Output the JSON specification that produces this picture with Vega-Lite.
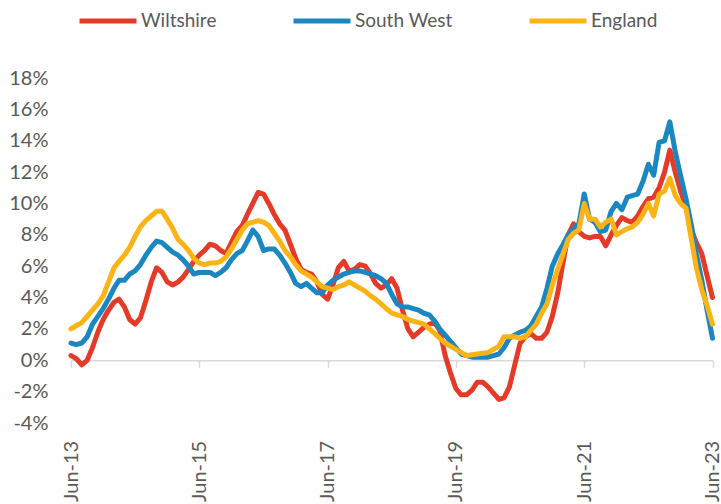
{
  "$schema": "https://vega.github.io/schema/vega-lite/v6.json",
  "width": 641.5,
  "height": 345,
  "autosize": {"type": "none"},
  "padding": {"left": 71, "top": 78, "right": 8.5, "bottom": 81},
  "background": "white",
  "config": {"view": {"stroke": null}, "font": "Lato"},
  "data": {"values": [
    {"d":"2013-06-01","Wiltshire":0.3,"South West":1.1,"England":2.0},
    {"d":"2013-07-01","Wiltshire":0.1,"South West":1.0,"England":2.2},
    {"d":"2013-08-01","Wiltshire":-0.3,"South West":1.1,"England":2.4},
    {"d":"2013-09-01","Wiltshire":0.0,"South West":1.5,"England":2.8},
    {"d":"2013-10-01","Wiltshire":0.8,"South West":2.3,"England":3.2},
    {"d":"2013-11-01","Wiltshire":1.8,"South West":2.8,"England":3.6},
    {"d":"2013-12-01","Wiltshire":2.6,"South West":3.3,"England":4.1},
    {"d":"2014-01-01","Wiltshire":3.2,"South West":3.9,"England":5.0},
    {"d":"2014-02-01","Wiltshire":3.7,"South West":4.6,"England":5.9},
    {"d":"2014-03-01","Wiltshire":3.9,"South West":5.1,"England":6.3},
    {"d":"2014-04-01","Wiltshire":3.4,"South West":5.1,"England":6.7},
    {"d":"2014-05-01","Wiltshire":2.6,"South West":5.5,"England":7.2},
    {"d":"2014-06-01","Wiltshire":2.3,"South West":5.7,"England":7.9},
    {"d":"2014-07-01","Wiltshire":2.7,"South West":6.1,"England":8.5},
    {"d":"2014-08-01","Wiltshire":3.8,"South West":6.7,"England":8.9},
    {"d":"2014-09-01","Wiltshire":5.0,"South West":7.2,"England":9.2},
    {"d":"2014-10-01","Wiltshire":5.9,"South West":7.6,"England":9.5},
    {"d":"2014-11-01","Wiltshire":5.6,"South West":7.5,"England":9.5},
    {"d":"2014-12-01","Wiltshire":5.0,"South West":7.2,"England":9.0},
    {"d":"2015-01-01","Wiltshire":4.8,"South West":6.9,"England":8.4},
    {"d":"2015-02-01","Wiltshire":5.0,"South West":6.7,"England":7.7},
    {"d":"2015-03-01","Wiltshire":5.3,"South West":6.4,"England":7.4},
    {"d":"2015-04-01","Wiltshire":5.8,"South West":6.0,"England":7.0},
    {"d":"2015-05-01","Wiltshire":6.3,"South West":5.5,"England":6.5},
    {"d":"2015-06-01","Wiltshire":6.7,"South West":5.6,"England":6.2},
    {"d":"2015-07-01","Wiltshire":7.0,"South West":5.6,"England":6.1},
    {"d":"2015-08-01","Wiltshire":7.4,"South West":5.6,"England":6.2},
    {"d":"2015-09-01","Wiltshire":7.3,"South West":5.4,"England":6.2},
    {"d":"2015-10-01","Wiltshire":7.0,"South West":5.6,"England":6.3},
    {"d":"2015-11-01","Wiltshire":6.8,"South West":5.9,"England":6.6},
    {"d":"2015-12-01","Wiltshire":7.5,"South West":6.4,"England":7.1},
    {"d":"2016-01-01","Wiltshire":8.2,"South West":6.8,"England":7.7},
    {"d":"2016-02-01","Wiltshire":8.6,"South West":7.0,"England":8.3},
    {"d":"2016-03-01","Wiltshire":9.3,"South West":7.6,"England":8.7},
    {"d":"2016-04-01","Wiltshire":10.0,"South West":8.3,"England":8.8},
    {"d":"2016-05-01","Wiltshire":10.7,"South West":7.9,"England":8.9},
    {"d":"2016-06-01","Wiltshire":10.6,"South West":7.0,"England":8.8},
    {"d":"2016-07-01","Wiltshire":10.0,"South West":7.1,"England":8.6},
    {"d":"2016-08-01","Wiltshire":9.3,"South West":7.1,"England":8.1},
    {"d":"2016-09-01","Wiltshire":8.7,"South West":6.7,"England":7.6},
    {"d":"2016-10-01","Wiltshire":8.3,"South West":6.2,"England":7.0},
    {"d":"2016-11-01","Wiltshire":7.4,"South West":5.6,"England":6.6},
    {"d":"2016-12-01","Wiltshire":6.5,"South West":4.9,"England":6.1},
    {"d":"2017-01-01","Wiltshire":5.8,"South West":4.7,"England":5.7},
    {"d":"2017-02-01","Wiltshire":5.6,"South West":4.9,"England":5.5},
    {"d":"2017-03-01","Wiltshire":5.5,"South West":4.6,"England":5.3},
    {"d":"2017-04-01","Wiltshire":5.0,"South West":4.3,"England":5.0},
    {"d":"2017-05-01","Wiltshire":4.2,"South West":4.3,"England":4.7},
    {"d":"2017-06-01","Wiltshire":3.9,"South West":4.8,"England":4.6},
    {"d":"2017-07-01","Wiltshire":4.8,"South West":5.1,"England":4.5},
    {"d":"2017-08-01","Wiltshire":5.9,"South West":5.3,"England":4.7},
    {"d":"2017-09-01","Wiltshire":6.3,"South West":5.5,"England":4.8},
    {"d":"2017-10-01","Wiltshire":5.7,"South West":5.6,"England":5.0},
    {"d":"2017-11-01","Wiltshire":5.8,"South West":5.7,"England":4.8},
    {"d":"2017-12-01","Wiltshire":6.1,"South West":5.7,"England":4.6},
    {"d":"2018-01-01","Wiltshire":6.0,"South West":5.6,"England":4.4},
    {"d":"2018-02-01","Wiltshire":5.5,"South West":5.5,"England":4.1},
    {"d":"2018-03-01","Wiltshire":4.9,"South West":5.4,"England":3.9},
    {"d":"2018-04-01","Wiltshire":4.6,"South West":5.2,"England":3.6},
    {"d":"2018-05-01","Wiltshire":4.8,"South West":4.9,"England":3.3},
    {"d":"2018-06-01","Wiltshire":5.2,"South West":4.2,"England":3.0},
    {"d":"2018-07-01","Wiltshire":4.6,"South West":3.6,"England":2.9},
    {"d":"2018-08-01","Wiltshire":3.2,"South West":3.4,"England":2.8},
    {"d":"2018-09-01","Wiltshire":2.0,"South West":3.4,"England":2.6},
    {"d":"2018-10-01","Wiltshire":1.5,"South West":3.3,"England":2.5},
    {"d":"2018-11-01","Wiltshire":1.8,"South West":3.2,"England":2.4},
    {"d":"2018-12-01","Wiltshire":2.1,"South West":3.0,"England":2.3},
    {"d":"2019-01-01","Wiltshire":2.3,"South West":2.9,"England":2.0},
    {"d":"2019-02-01","Wiltshire":2.4,"South West":2.5,"England":1.7},
    {"d":"2019-03-01","Wiltshire":1.9,"South West":2.0,"England":1.4},
    {"d":"2019-04-01","Wiltshire":0.3,"South West":1.6,"England":1.1},
    {"d":"2019-05-01","Wiltshire":-0.8,"South West":1.2,"England":0.9},
    {"d":"2019-06-01","Wiltshire":-1.8,"South West":0.8,"England":0.7},
    {"d":"2019-07-01","Wiltshire":-2.2,"South West":0.4,"England":0.5},
    {"d":"2019-08-01","Wiltshire":-2.2,"South West":0.3,"England":0.3},
    {"d":"2019-09-01","Wiltshire":-1.9,"South West":0.2,"England":0.35},
    {"d":"2019-10-01","Wiltshire":-1.4,"South West":0.2,"England":0.4},
    {"d":"2019-11-01","Wiltshire":-1.4,"South West":0.2,"England":0.45},
    {"d":"2019-12-01","Wiltshire":-1.7,"South West":0.2,"England":0.5},
    {"d":"2020-01-01","Wiltshire":-2.1,"South West":0.3,"England":0.7},
    {"d":"2020-02-01","Wiltshire":-2.5,"South West":0.4,"England":0.9},
    {"d":"2020-03-01","Wiltshire":-2.4,"South West":0.8,"England":1.5},
    {"d":"2020-04-01","Wiltshire":-1.7,"South West":1.4,"England":1.5},
    {"d":"2020-05-01","Wiltshire":-0.3,"South West":1.6,"England":1.5},
    {"d":"2020-06-01","Wiltshire":1.1,"South West":1.8,"England":1.4},
    {"d":"2020-07-01","Wiltshire":1.5,"South West":1.9,"England":1.5},
    {"d":"2020-08-01","Wiltshire":1.7,"South West":2.2,"England":1.9},
    {"d":"2020-09-01","Wiltshire":1.4,"South West":2.8,"England":2.3},
    {"d":"2020-10-01","Wiltshire":1.4,"South West":3.4,"England":3.0},
    {"d":"2020-11-01","Wiltshire":1.8,"South West":4.6,"England":3.6},
    {"d":"2020-12-01","Wiltshire":2.8,"South West":6.0,"England":4.8},
    {"d":"2021-01-01","Wiltshire":4.3,"South West":6.8,"England":5.8},
    {"d":"2021-02-01","Wiltshire":6.3,"South West":7.4,"England":6.8},
    {"d":"2021-03-01","Wiltshire":8.0,"South West":8.0,"England":7.7},
    {"d":"2021-04-01","Wiltshire":8.7,"South West":8.4,"England":8.1},
    {"d":"2021-05-01","Wiltshire":8.2,"South West":8.7,"England":8.3},
    {"d":"2021-06-01","Wiltshire":7.9,"South West":10.6,"England":10.0},
    {"d":"2021-07-01","Wiltshire":7.8,"South West":9.0,"England":9.0},
    {"d":"2021-08-01","Wiltshire":7.9,"South West":8.8,"England":9.0},
    {"d":"2021-09-01","Wiltshire":7.9,"South West":8.2,"England":8.5},
    {"d":"2021-10-01","Wiltshire":7.3,"South West":8.3,"England":8.8},
    {"d":"2021-11-01","Wiltshire":8.0,"South West":9.5,"England":9.0},
    {"d":"2021-12-01","Wiltshire":8.6,"South West":10.0,"England":8.0},
    {"d":"2022-01-01","Wiltshire":9.1,"South West":9.6,"England":8.2},
    {"d":"2022-02-01","Wiltshire":8.9,"South West":10.4,"England":8.4},
    {"d":"2022-03-01","Wiltshire":8.8,"South West":10.5,"England":8.5},
    {"d":"2022-04-01","Wiltshire":9.2,"South West":10.6,"England":8.8},
    {"d":"2022-05-01","Wiltshire":9.8,"South West":11.4,"England":9.3},
    {"d":"2022-06-01","Wiltshire":10.3,"South West":12.5,"England":10.0},
    {"d":"2022-07-01","Wiltshire":10.4,"South West":11.8,"England":9.2},
    {"d":"2022-08-01","Wiltshire":11.0,"South West":13.9,"England":10.6},
    {"d":"2022-09-01","Wiltshire":12.0,"South West":14.0,"England":10.8},
    {"d":"2022-10-01","Wiltshire":13.4,"South West":15.2,"England":11.6},
    {"d":"2022-11-01","Wiltshire":12.0,"South West":13.3,"England":10.5},
    {"d":"2022-12-01","Wiltshire":10.8,"South West":11.8,"England":10.0},
    {"d":"2023-01-01","Wiltshire":9.8,"South West":10.3,"England":9.7},
    {"d":"2023-02-01","Wiltshire":8.3,"South West":8.6,"England":7.7},
    {"d":"2023-03-01","Wiltshire":7.5,"South West":6.8,"England":5.9},
    {"d":"2023-04-01","Wiltshire":6.8,"South West":5.1,"England":4.5},
    {"d":"2023-05-01","Wiltshire":5.4,"South West":3.2,"England":3.5},
    {"d":"2023-06-01","Wiltshire":4.0,"South West":1.4,"England":2.3}
  ]},
  "transform": [{"fold": ["Wiltshire", "South West", "England"], "as": ["series", "value"]}],
  "mark": {"type": "line", "strokeWidth": 5, "strokeJoin": "round", "strokeCap": "round"},
  "encoding": {
    "x": {
      "field": "d", "type": "temporal",
      "scale": {"type": "utc", "domain": [{"year": 2013, "month": 6, "date": 1, "utc": true}, {"year": 2023, "month": 6, "date": 1, "utc": true}], "nice": false},
      "axis": {
        "title": null,
        "values": [
          {"year": 2013, "month": 6, "date": 1, "utc": true},
          {"year": 2015, "month": 6, "date": 1, "utc": true},
          {"year": 2017, "month": 6, "date": 1, "utc": true},
          {"year": 2019, "month": 6, "date": 1, "utc": true},
          {"year": 2021, "month": 6, "date": 1, "utc": true},
          {"year": 2023, "month": 6, "date": 1, "utc": true}
        ],
        "format": "%b-%y",
        "offset": -62.7,
        "domainColor": "#D9D9D9", "domainWidth": 1.5,
        "tickColor": "#D9D9D9", "tickWidth": 1.5, "tickSize": 7,
        "labelAngle": -90, "labelPadding": 73,
        "labelFont": "Lato", "labelFontSize": 20, "labelColor": "#595959",
        "grid": false, "labelOverlap": false, "labelFlush": false
      }
    },
    "y": {
      "field": "value", "type": "quantitative",
      "scale": {"domain": [-4, 18], "nice": false, "zero": false},
      "axis": {
        "title": null, "values": [-4, -2, 0, 2, 4, 6, 8, 10, 12, 14, 16, 18],
        "labelExpr": "datum.value + '%'",
        "domain": false, "ticks": false, "tickSize": 0, "grid": false,
        "labelPadding": 23, "labelFont": "Lato", "labelFontSize": 20, "labelColor": "#595959"
      }
    },
    "color": {
      "field": "series", "type": "nominal",
      "scale": {"domain": ["Wiltshire", "South West", "England"], "range": ["#E63A28", "#1B87C1", "#FBB316"]},
      "legend": {
        "title": null, "orient": "none", "direction": "horizontal",
        "legendX": 6, "legendY": -88,
        "symbolType": "stroke", "symbolSize": 3249, "symbolStrokeWidth": 5,
        "labelFont": "Lato", "labelFontSize": 19, "labelColor": "#595959",
        "labelOffset": 2, "columnPadding": 66
      }
    },
    "order": {"value": 0}
  }
}
